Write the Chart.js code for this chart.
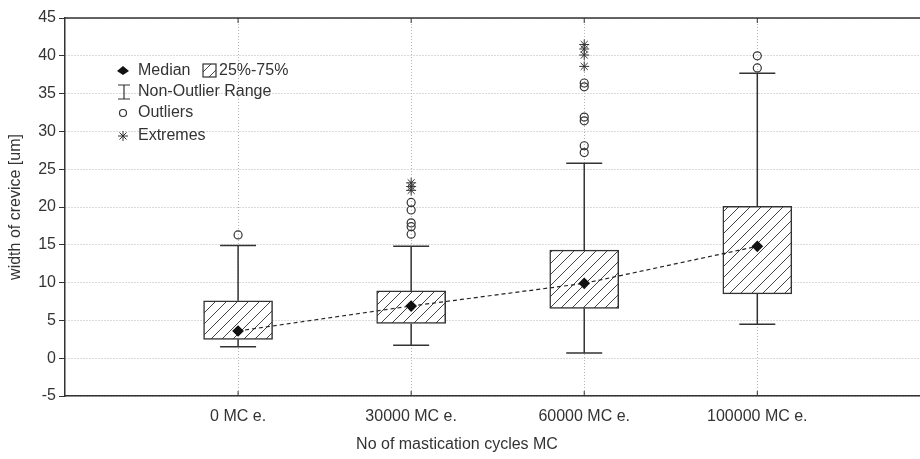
<!DOCTYPE html>
<html lang="en">
<head>
    <meta charset="UTF-8">
    <title>Width of crevice vs mastication cycles</title>
    <style>
        html, body { margin: 0; padding: 0; background: #fff; overflow: hidden; }
        canvas { display: block; }
    </style>
</head>
<body>

<canvas id="boxChart" width="920" height="459"></canvas>

<script src="https://cdn.jsdelivr.net/npm/chart.js"></script>
<script>
// values
const categories = ['0 MC e.', '30000 MC e.', '60000 MC e.', '100000 MC e.'];
const q1 = [2.5, 4.6, 6.6, 8.5];
const q3 = [7.6, 8.9, 14.3, 20.1];
const medians = [3.6, 6.9, 9.9, 14.8];
const whiskerLow = [1.5, 1.7, 0.7, 4.5];
const whiskerHigh = [14.9, 14.8, 25.8, 37.7];
const outliers = [[16.3], [16.4, 17.4, 17.9, 19.6, 20.6], [27.2, 28.1, 31.4, 31.9, 35.9, 36.4], [38.4, 40.0]];
const extremes = [[], [22.2, 22.7, 23.2], [38.6, 40.1, 40.9, 41.5], []];
const yTicks = [-5, 0, 5, 10, 15, 20, 25, 30, 35, 40, 45];

const ink = '#333';
const font = { family: 'Liberation Sans, Arial, sans-serif', size: 16 };
const capHalf = 0.104;

// diagonal hatch for the boxes
function makeHatch() {
    const c = document.createElement('canvas');
    c.width = 11; c.height = 11;
    const g = c.getContext('2d');
    g.fillStyle = '#fff';
    g.fillRect(0, 0, 11, 11);
    g.strokeStyle = '#444';
    g.lineWidth = 1;
    g.beginPath();
    g.moveTo(0, 11); g.lineTo(11, 0);
    g.moveTo(-1, 1); g.lineTo(1, -1);
    g.moveTo(10, 12); g.lineTo(12, 10);
    g.stroke();
    return g.createPattern(c, 'repeat');
}
const hatch = makeHatch();

const boxData = categories.map((c, i) => ({ x: i + 1, y: [q1[i], q3[i]] }));
const medianData = categories.map((c, i) => ({ x: i + 1, y: medians[i] }));

const whiskerData = [];
const capData = [];
categories.forEach((c, i) => {
    const x = i + 1;
    whiskerData.push({ x: x, y: q3[i] }, { x: x, y: whiskerHigh[i] }, { x: x, y: null });
    whiskerData.push({ x: x, y: q1[i] }, { x: x, y: whiskerLow[i] }, { x: x, y: null });
    capData.push({ x: x - capHalf, y: whiskerHigh[i] }, { x: x + capHalf, y: whiskerHigh[i] }, { x: x, y: null });
    capData.push({ x: x - capHalf, y: whiskerLow[i] }, { x: x + capHalf, y: whiskerLow[i] }, { x: x, y: null });
});

const outlierData = [];
outliers.forEach((list, i) => list.forEach(v => outlierData.push({ x: i + 1, y: v })));
const extremeData = [];
extremes.forEach((list, i) => list.forEach(v => extremeData.push({ x: i + 1, y: v })));

// top frame line, inside ticks, x title and the legend block
const frameAndLegend = {
    id: 'frameAndLegend',
    afterDraw(chart) {
        const { ctx, chartArea, scales } = chart;
        ctx.save();
        ctx.strokeStyle = ink;
        ctx.lineWidth = 1.5;
        ctx.beginPath();
        ctx.moveTo(chartArea.left, chartArea.top);
        ctx.lineTo(chartArea.right, chartArea.top);
        ctx.stroke();
        ctx.lineWidth = 1;
        categories.forEach((c, i) => {
            const px = scales.x.getPixelForValue(i + 1);
            ctx.beginPath();
            ctx.moveTo(px, chartArea.top); ctx.lineTo(px, chartArea.top + 5);
            ctx.moveTo(px, chartArea.bottom); ctx.lineTo(px, chartArea.bottom - 5);
            ctx.stroke();
        });

        ctx.fillStyle = ink;
        ctx.font = '16px Liberation Sans, Arial, sans-serif';
        ctx.textBaseline = 'middle';
        ctx.textAlign = 'center';
        ctx.fillText('No of mastication cycles MC', 457, 445);

        // legend
        const mx = 123, tx = 138;
        const rows = [71, 92, 113, 136];
        ctx.textAlign = 'left';

        ctx.fillStyle = '#111';
        ctx.beginPath();
        ctx.moveTo(mx, rows[0] - 5); ctx.lineTo(mx + 6, rows[0]);
        ctx.lineTo(mx, rows[0] + 4); ctx.lineTo(mx - 6, rows[0]);
        ctx.closePath(); ctx.fill();
        ctx.fillStyle = ink;
        ctx.fillText('Median', tx, rows[0]);

        ctx.fillStyle = hatch;
        ctx.fillRect(203, rows[0] - 7, 13, 13);
        ctx.strokeStyle = ink;
        ctx.lineWidth = 1.2;
        ctx.strokeRect(203, rows[0] - 7, 13, 13);
        ctx.fillStyle = ink;
        ctx.fillText('25%-75%', 219, rows[0]);

        ctx.beginPath();
        ctx.moveTo(mx + 1, rows[1] - 7); ctx.lineTo(mx + 1, rows[1] + 7);
        ctx.moveTo(mx - 5, rows[1] - 7); ctx.lineTo(mx + 7, rows[1] - 7);
        ctx.moveTo(mx - 5, rows[1] + 7); ctx.lineTo(mx + 7, rows[1] + 7);
        ctx.stroke();
        ctx.fillText('Non-Outlier Range', tx, rows[1]);

        ctx.beginPath();
        ctx.arc(mx, rows[2], 3.5, 0, Math.PI * 2);
        ctx.stroke();
        ctx.fillText('Outliers', tx, rows[2]);

        ctx.lineWidth = 1;
        ctx.beginPath();
        for (let k = 0; k < 4; k++) {
            const a = k * Math.PI / 4;
            ctx.moveTo(mx - 5 * Math.cos(a), rows[3] - 5 * Math.sin(a));
            ctx.lineTo(mx + 5 * Math.cos(a), rows[3] + 5 * Math.sin(a));
        }
        ctx.stroke();
        ctx.fillText('Extremes', tx, rows[3]);
        ctx.restore();
    }
};

new Chart(document.getElementById('boxChart'), {
    type: 'bar',
    data: {
        datasets: [
            {
                type: 'line',
                label: 'Median',
                data: medianData,
                borderColor: '#222',
                borderWidth: 1.2,
                borderDash: [4, 3],
                pointStyle: 'rectRot',
                pointRadius: 5,
                pointBackgroundColor: '#111',
                pointBorderColor: '#111',
                order: 0
            },
            {
                type: 'line',
                label: 'Outliers',
                data: outlierData,
                showLine: false,
                pointStyle: 'circle',
                pointRadius: 4,
                pointBorderWidth: 1.2,
                pointBackgroundColor: 'rgba(255,255,255,0)',
                pointBorderColor: ink,
                order: 1
            },
            {
                type: 'line',
                label: 'Extremes',
                data: extremeData,
                showLine: false,
                pointStyle: 'star',
                pointRadius: 5,
                pointBorderWidth: 1,
                pointBorderColor: ink,
                order: 1
            },
            {
                type: 'bar',
                label: '25%-75%',
                data: boxData,
                backgroundColor: hatch,
                borderColor: ink,
                borderWidth: 1.5,
                borderSkipped: false,
                barThickness: 69,
                order: 2
            },
            {
                type: 'line',
                label: 'Non-Outlier Range',
                data: whiskerData,
                borderColor: ink,
                borderWidth: 1.5,
                pointRadius: 0,
                spanGaps: false,
                order: 3
            },
            {
                type: 'line',
                label: 'caps',
                data: capData,
                borderColor: ink,
                borderWidth: 1.5,
                pointRadius: 0,
                spanGaps: false,
                order: 3
            }
        ]
    },
    options: {
        responsive: false,
        animation: false,
        layout: { autoPadding: false, padding: { top: 18, right: 0, left: 0, bottom: 0 } },
        plugins: {
            legend: { display: false },
            tooltip: { enabled: false }
        },
        scales: {
            x: {
                type: 'linear',
                offset: false,
                min: 0,
                max: 4.94,
                afterBuildTicks: s => { s.ticks = categories.map((c, i) => ({ value: i + 1 })); },
                afterFit: s => { s.height = 63; s.paddingRight = 0; },
                ticks: {
                    callback: v => categories[v - 1] || '',
                    color: ink,
                    font: font,
                    padding: 11,
                    maxRotation: 0
                },
                grid: { color: '#b4b4b4', lineWidth: 1, drawTicks: false, offset: false },
                border: { display: true, color: ink, width: 1.5, dash: [1, 2] },
                title: { display: false }
            },
            y: {
                min: -5,
                max: 45,
                afterBuildTicks: s => { s.ticks = yTicks.map(v => ({ value: v })); },
                afterFit: s => { s.width = 65; },
                ticks: { color: ink, font: font, padding: 3 },
                grid: { color: '#b4b4b4', lineWidth: 1, tickColor: ink, tickLength: 6 },
                border: { display: true, color: ink, width: 1.5, dash: [1, 2] },
                title: {
                    display: true,
                    text: 'width of crevice [um]',
                    color: ink,
                    font: font,
                    padding: { top: 6, bottom: 0 }
                }
            }
        }
    },
    plugins: [frameAndLegend]
});
</script>

</body>
</html>
